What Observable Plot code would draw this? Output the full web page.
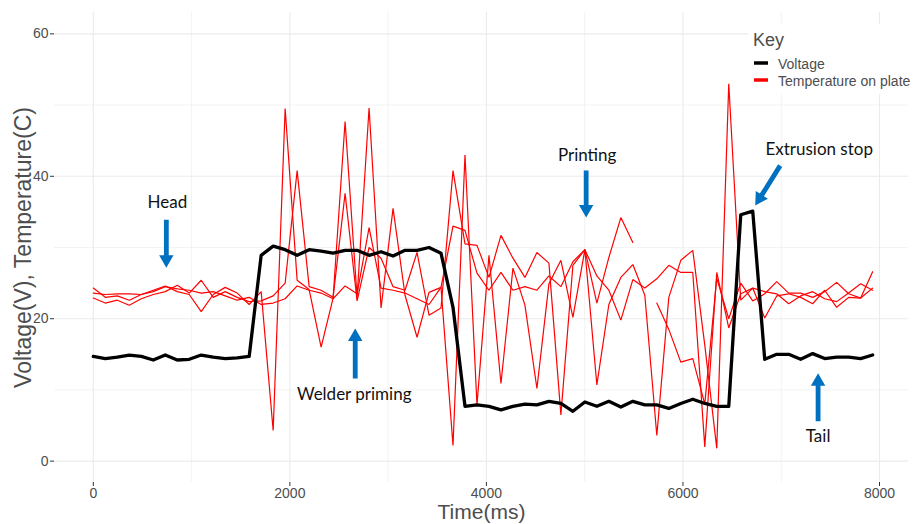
<!DOCTYPE html>
<html>
<head>
<meta charset="utf-8">
<script src="https://cdn.jsdelivr.net/npm/d3@7"></script>
<script src="https://cdn.jsdelivr.net/npm/@observablehq/plot@0.6"></script>
<style>
  body { margin: 0; background: #fff; }
  #chart { position: relative; width: 917px; height: 524px; }
</style>
</head>
<body>
<div id="chart"></div>
<script>
// ---- data ----
const timeMs = [0,122,244,366,488,610,732,854,976,1098,1220,1342,1464,1586,1708,1830,1952,2074,2196,2318,2440,2562,2684,2806,2928,3050,3172,3294,3416,3538,3660,3782,3904,4026,4148,4270,4392,4514,4636,4758,4880,5002,5124,5246,5368,5490,5612,5734,5856,5978,6100,6222,6344,6466,6588,6710,6832,6954,7076,7198,7320,7442,7564,7686,7808,7930];

const voltage = [14.7,14.4,14.6,14.9,14.7,14.2,14.9,14.2,14.3,14.9,14.6,14.4,14.5,14.7,
  28.9,30.2,29.7,28.9,29.7,29.5,29.2,29.6,29.6,28.9,29.4,28.8,29.6,29.6,30.0,29.2,
  21.6,
  7.7,7.9,7.7,7.2,7.7,8.0,7.9,8.4,8.1,7.0,8.3,7.7,8.4,7.6,8.4,7.9,7.9,7.4,8.1,8.7,8.1,7.7,7.7,
  34.6,35.1,14.3,15.0,15.0,14.3,15.1,14.4,14.6,14.6,14.4,14.9];

const tempRun1 = [24.3,23.0,23.2,22.6,23.4,24.0,24.6,23.8,23.4,21.0,23.4,24.4,23.6,22.0,
  23.8,4.3,49.5,25.4,24.1,16.0,22.9,47.7,23.0,49.6,21.5,35.5,23.3,17.4,23.7,24.4,
  2.2,43.0,7.9,28.9,10.9,27.1,21.9,10.2,24.9,28.2,20.2,29.7,10.7,22.0,25.8,27.6,23.3,
  3.6,23.0,28.2,29.6,16.3,1.8,53.0,
  22.6,24.3,20.1,23.2,23.5,23.0,22.1,24.0,21.6,23.0,22.9,26.6];

const tempRun2 = [22.9,22.2,22.6,21.9,22.8,23.4,23.8,24.7,23.6,25.4,23.0,23.8,23.0,22.4,
  22.5,23.2,25.0,40.8,24.5,24.0,23.0,37.6,22.5,30.0,28.5,24.5,24.0,29.3,20.5,21.5,
  40.8,30.5,30.3,25.8,31.7,28.5,25.8,29.3,27.8,6.5,27.5,29.7,22.2,28.6,34.2,30.7,null,
  22.2,18.5,13.9,14.4,8.0,25.7,20.0,
  25.0,22.5,23.5,25.2,23.6,23.6,23.0,23.8,25.1,23.5,22.9,24.3];

const tempRun3 = [23.6,23.4,23.5,23.5,23.4,23.8,24.5,24.2,24.0,23.6,23.8,23.2,22.6,23.0,
  22.0,22.2,22.8,24.6,24.0,23.6,22.8,24.6,23.5,32.8,24.3,24.0,23.6,22.8,22.0,24.4,
  33.0,32.4,26.4,24.0,26.5,24.0,24.5,24.0,26.0,24.5,28.0,29.7,26.0,24.0,19.8,25.5,24.3,
  25.6,27.5,26.5,26.5,2.0,26.5,18.7,
  23.5,24.3,23.8,23.5,22.1,23.2,23.8,22.8,22.4,23.6,24.9,24.0];

const xTicks = [0, 2000, 4000, 6000, 8000];
const yTicks = [0, 20, 40, 60];
const xMinorTicks = [1000, 3000, 5000, 7000];
const yMinorTicks = [10, 30, 50];

const seriesNames = ["Voltage", "Temperature on plate"];
const legendTitle = "Key";
const xTitle = "Time(ms)";
const yTitle = "Voltage(V), Temperature(C)";

// annotation text and arrows (data coordinates)
const noteText = ["Head", "Welder priming", "Printing", "Extrusion stop", "Tail"];
const noteX = [753, 2655, 5025, 7386, 7375];
const noteY = [36.3, 9.4, 42.9, 43.8, 3.4];
const arrowX = [743, 2665, 5015, 6989, 7375];
const arrowY = [33.9, 11.6, 40.8, 41.5, 5.6];
const arrowAngle = [180, 0, 180, 212, 0];
const arrowLen = [48, 50, 47, 47, 48];

// ---- build tables ----
const voltageRows = timeMs.map((t, i) => ({t, v: voltage[i]}));
const tempRows = [tempRun1, tempRun2, tempRun3].flatMap((arr, k) =>
  timeMs.map((t, i) => ({t, v: arr[i], run: k})));
const notes = noteText.map((text, i) => ({text, x: noteX[i], y: noteY[i]}));
const arrows = arrowX.map((x, i) => ({x, y: arrowY[i], a: arrowAngle[i], l: arrowLen[i]}));

const blockArrow = {
  draw(context, l) {
    const sw = 2.4, hw = 7.2, hl = 12.5;
    context.moveTo(-sw, 0);
    context.lineTo(-sw, -(l - hl));
    context.lineTo(-hw, -(l - hl));
    context.lineTo(0, -l);
    context.lineTo(hw, -(l - hl));
    context.lineTo(sw, -(l - hl));
    context.lineTo(sw, 0);
    context.closePath();
  }
};

const gridColor = "#ebebeb";
const textGray = "#4d4d4d";

const plot = Plot.plot({
  width: 917,
  height: 524,
  marginLeft: 54,
  marginRight: 9,
  marginTop: 12,
  marginBottom: 42,
  x: {domain: [-395, 8295]},
  y: {domain: [-3, 63]},
  length: {type: "identity"},
  style: {fontFamily: "'Liberation Sans', Arial, sans-serif", background: "white"},
  marks: [
    Plot.gridX(xMinorTicks, {stroke: gridColor, strokeOpacity: 1, strokeWidth: 0.6}),
    Plot.gridY(yMinorTicks, {stroke: gridColor, strokeOpacity: 1, strokeWidth: 0.6}),
    Plot.gridX(xTicks, {stroke: gridColor, strokeOpacity: 1, strokeWidth: 1.1}),
    Plot.gridY(yTicks, {stroke: gridColor, strokeOpacity: 1, strokeWidth: 1.1}),
    Plot.axisX(xTicks, {tickSize: 4, tickPadding: 2, fontSize: 14, fill: textGray, stroke: "#333",
      tickFormat: d => String(d), label: null}),
    Plot.axisY(yTicks, {tickSize: 4, tickPadding: 2, fontSize: 14, fill: textGray, stroke: "#333",
      tickFormat: d => String(d), label: null}),
    Plot.text([xTitle], {frameAnchor: "bottom", dy: 29.5, lineAnchor: "middle", textAnchor: "middle",
      fontSize: 21, fill: textGray}),
    Plot.text([yTitle], {frameAnchor: "left", dx: -31, rotate: -90, lineAnchor: "middle", textAnchor: "middle",
      fontSize: 23, fill: textGray}),
    Plot.line(tempRows, {x: "t", y: "v", z: "run", stroke: "#ff0000", strokeWidth: 1.2, strokeLinejoin: "miter"}),
    Plot.line(voltageRows, {x: "t", y: "v", stroke: "#000", strokeWidth: 3.3, strokeLinejoin: "round"}),
    Plot.vector(arrows, {x: "x", y: "y", rotate: "a", length: "l", anchor: "start", shape: blockArrow,
      fill: "#0070c0", stroke: "none"}),
    Plot.text(notes, {x: "x", y: "y", text: "text", fontSize: 17, fontFamily: "Lato, 'Open Sans', sans-serif", fill: "#111"})
  ]
});

document.getElementById("chart").appendChild(plot);

// ---- legend (inside the panel, top right) ----
const svg = d3.select(plot);
const lg = svg.append("g")
  .attr("font-family", "'Liberation Sans', Arial, sans-serif")
  .attr("text-anchor", "start");
lg.append("rect").attr("x", 748).attr("y", 24).attr("width", 169).attr("height", 70).attr("fill", "white");
lg.append("text").attr("x", 753).attr("y", 46).attr("font-size", 18).attr("fill", textGray).text(legendTitle);
const legendColors = ["#000", "#ff0000"];
seriesNames.forEach((name, i) => {
  const yy = 63 + i * 17;
  lg.append("line").attr("x1", 754).attr("x2", 768).attr("y1", yy).attr("y2", yy)
    .attr("stroke", legendColors[i]).attr("stroke-width", 3.5);
  lg.append("text").attr("x", 778).attr("y", yy + 5.5).attr("font-size", 14).attr("fill", textGray).text(name);
});
</script>
</body>
</html>
